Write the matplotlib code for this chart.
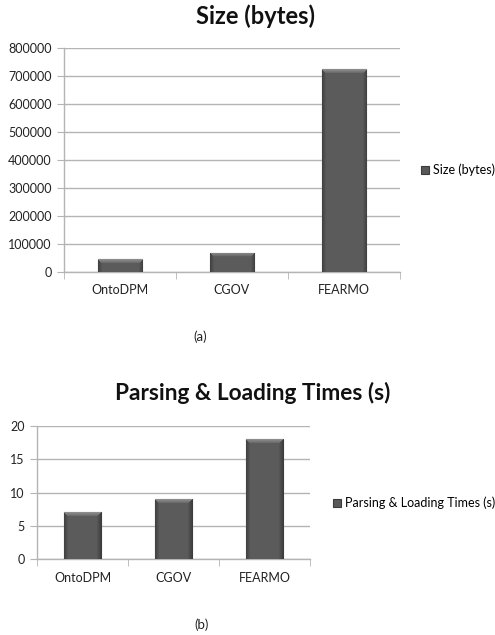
import matplotlib
matplotlib.use("Agg")
import matplotlib.pyplot as plt
import numpy as np

categories = ["OntoDPM", "CGOV", "FEARMO"]
size_bytes = [46000, 68000, 725000]
parse_times = [7, 9, 18]
size_ticks = [0, 100000, 200000, 300000, 400000, 500000, 600000, 700000, 800000]
time_ticks = [0, 5, 10, 15, 20]

plt.rcParams['font.family'] = ['Lato', 'DejaVu Sans']

W, H = 495, 635
fig = plt.figure(figsize=(W / 100, H / 100), dpi=100)

def px_axes(l, t, r, b):
    return fig.add_axes([l / W, 1 - b / H, (r - l) / W, (b - t) / H])

BAR = '#585858'
EDGE = '#3c3c3c'
GRID = '#b4b4b4'
TXT = '#222222'


def shade_bars(ax, bars, ax_px_w, ax_px_h):
    x0, x1 = ax.get_xlim()
    y0, y1 = ax.get_ylim()
    for b in bars:
        bw = b.get_width()
        bh = b.get_height()
        cols = max(int(round(bw / (x1 - x0) * ax_px_w)), 2)
        rows = max(int(round(bh / (y1 - y0) * ax_px_h)), 2)
        xx = np.arange(cols)[None, :].repeat(rows, 0).astype(float)
        yy = np.arange(rows)[:, None].repeat(cols, 1).astype(float)
        v = np.full((rows, cols), 0.36)
        # soft side shading
        dx = np.minimum(xx, cols - 1 - xx)
        v = v - 0.10 * np.clip(1 - dx / 4.0, 0, 1)
        # bevel on top
        top = yy < 4
        v = np.where(top & (dx >= yy), 0.55 - yy * 0.04, v)
        img = np.dstack([v, v, v])
        im = ax.imshow(img, extent=(b.get_x(), b.get_x() + bw, 0, bh),
                       origin='upper', aspect='auto', interpolation='bilinear',
                       zorder=3.5)
        im.set_clip_path(b)
    ax.set_xlim(x0, x1)
    ax.set_ylim(y0, y1)


def style(ax, ticks, fs):
    x = np.arange(len(categories))
    ax.set_xlim(-0.5, len(categories) - 0.5)
    ax.set_ylim(ticks[0], ticks[-1])
    ax.set_yticks(ticks)
    ax.set_yticklabels([str(t) for t in ticks], fontsize=fs, color=TXT)
    ax.set_xticks(x)
    ax.set_xticklabels(categories, fontsize=fs, color=TXT)
    ax.tick_params(axis='x', length=0, pad=9)
    ax.set_xticks(np.arange(len(categories) + 1) - 0.5, minor=True)
    ax.tick_params(axis='x', which='minor', length=5, color=GRID, direction='out')
    ax.tick_params(axis='y', length=5, color=GRID, direction='out', pad=4)
    ax.yaxis.grid(True, color=GRID, linewidth=1.0)
    ax.set_axisbelow(True)
    for s in ['top', 'right']:
        ax.spines[s].set_visible(False)
    for s in ['left', 'bottom']:
        ax.spines[s].set_color(GRID)
        ax.spines[s].set_linewidth(1.0)


# (a)
ax1 = px_axes(64, 48, 400, 272)
b1 = ax1.bar(np.arange(3), size_bytes, width=0.4, color=BAR, edgecolor=EDGE,
             linewidth=0.8, label='Size (bytes)', zorder=3)
style(ax1, size_ticks, 9)
shade_bars(ax1, b1, 336, 224)
fig.text(255 / W, 1 - 16 / H, 'Size (bytes)', ha='center', va='center',
         fontsize=17, fontweight='bold', color='#111111')
ax1.legend(loc='center left', bbox_to_anchor=(421 / W, 1 - 170 / H),
           bbox_transform=fig.transFigure, frameon=False, fontsize=9,
           handlelength=0.65, handleheight=0.65, handletextpad=0.3,
           borderpad=0, borderaxespad=0)
fig.text(200 / W, 1 - 337 / H, '(a)', ha='center', va='center', fontsize=9.5,
         color=TXT)

# (b)
ax2 = px_axes(37, 426, 310, 559)
b2 = ax2.bar(np.arange(3), parse_times, width=0.4, color=BAR, edgecolor=EDGE,
             linewidth=0.8, label='Parsing & Loading Times (s)', zorder=3)
style(ax2, time_ticks, 9)
shade_bars(ax2, b2, 273, 133)
fig.text(253 / W, 1 - 393 / H, 'Parsing & Loading Times (s)', ha='center',
         va='center', fontsize=16.3, fontweight='bold', color='#111111')
ax2.legend(loc='center left', bbox_to_anchor=(333 / W, 1 - 503 / H),
           bbox_transform=fig.transFigure, frameon=False, fontsize=9,
           handlelength=0.65, handleheight=0.65, handletextpad=0.3,
           borderpad=0, borderaxespad=0)
fig.text(202 / W, 1 - 625 / H, '(b)', ha='center', va='center', fontsize=9.5,
         color=TXT)

fig.savefig('out.png', dpi=100)
